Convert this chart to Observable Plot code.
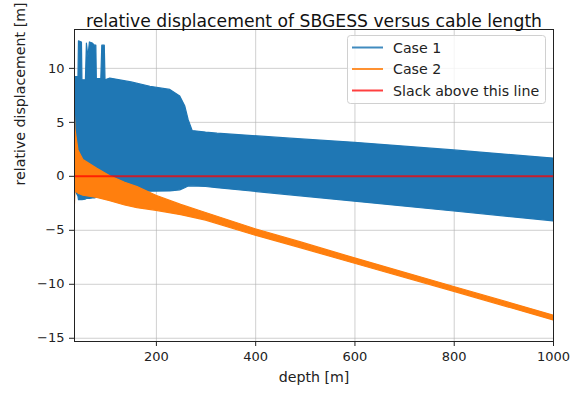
<!DOCTYPE html>
<html>
<head>
<meta charset="utf-8">
<script src="https://cdn.jsdelivr.net/npm/d3@7"></script>
<script src="https://cdn.jsdelivr.net/npm/@observablehq/plot@0.6"></script>
<style>
  html, body { margin: 0; padding: 0; background: #fff; }
  #chart { width: 577px; height: 394px; }
</style>
</head>
<body>
<div id="chart"></div>
<script>
// ---- Data ----
const titleText = "relative displacement of SBGESS versus cable length";
const xLabel = "depth [m]";
const yLabel = "relative displacement [m]";
const seriesNames = ["Case 1", "Case 2", "Slack above this line"];

const xTicks = [200, 400, 600, 800, 1000];
const yTicks = [-15, -10, -5, 0, 5, 10];

// Case 1 envelope of the oscillating response (depth, upper, lower)
const case1Depth = [35, 43, 44, 50, 51, 58, 60, 63, 66, 72, 76, 79, 80, 89, 91, 96, 97.5, 107, 150, 188, 228, 248, 258, 265, 273, 300, 323, 470, 600, 800, 1000];
const case1Upper = [9.2, 9.2, 12.5, 12.4, 8.9, 8.9, 12.3, 11.0, 12.4, 12.3, 12.1, 12.1, 9.0, 9.0, 12.1, 12.1, 8.9, 9.05, 8.7, 8.3, 8.0, 7.4, 6.5, 5.2, 4.2, 4.05, 3.95, 3.49, 3.1, 2.4, 1.64];
const case1Lower = [-1.2, -1.9, -2.2, -2.2, -2.2, -2.15, -2.1, -2.1, -2.1, -2.05, -2.05, -2.0, -2.0, -2.0, -2.0, -2.0, -2.0, -1.9, -1.45, -1.42, -1.4, -1.3, -1.1, -0.95, -0.93, -0.99, -1.1, -1.76, -2.35, -3.26, -4.17];

// Case 2 envelope (depth, upper, lower)
const case2Depth = [35, 37, 43, 53, 81, 107, 137, 162, 200, 250, 300, 400, 490, 600, 800, 1000];
const case2Upper = [6.7, 4.3, 2.4, 1.5, 0.7, 0.0, -0.6, -1.0, -1.8, -2.65, -3.4, -4.9, -6.1, -7.6, -10.25, -12.9];
const case2Lower = [-3.6, -1.4, -1.6, -1.8, -2.0, -2.3, -2.7, -2.95, -3.2, -3.6, -4.1, -5.5, -6.65, -8.1, -10.7, -13.35];

const slackLevel = [0];

// ---- Build tables ----
const case1 = case1Depth.map((d, i) => ({depth: d, hi: case1Upper[i], lo: case1Lower[i]}));
const case2 = case2Depth.map((d, i) => ({depth: d, hi: case2Upper[i], lo: case2Lower[i]}));

const C1 = "#1f77b4", C2 = "#ff7f0e", C3 = "#ff0000";
const FONT = "DejaVu Sans";
const fmt = d3.format("d");

const plot = Plot.plot({
  width: 577,
  height: 394,
  marginLeft: 74,
  marginRight: 24,
  marginTop: 29,
  marginBottom: 53,
  style: {fontFamily: FONT, fontSize: "13px", color: "#222", background: "#fff"},
  x: {domain: [35, 1000]},
  y: {domain: [-15.3, 13.6]},
  marks: [
    Plot.ruleX(xTicks, {stroke: "#b0b0b0", strokeOpacity: 0.6, strokeWidth: 1}),
    Plot.ruleY(yTicks, {stroke: "#b0b0b0", strokeOpacity: 0.6, strokeWidth: 1}),
    Plot.areaY(case1, {x: "depth", y1: "lo", y2: "hi", fill: C1, stroke: C1, strokeWidth: 1.2, clip: true}),
    Plot.areaY(case2, {x: "depth", y1: "lo", y2: "hi", fill: C2, stroke: C2, strokeWidth: 1.2, clip: true}),
    Plot.ruleY(slackLevel, {stroke: C3, strokeWidth: 2, strokeOpacity: 0.75}),
    Plot.frame({stroke: "#222", strokeWidth: 1}),
    Plot.axisX({ticks: xTicks, tickFormat: fmt, tickSize: 5, tickPadding: 5, label: null, fontSize: 13}),
    Plot.axisY({ticks: yTicks, tickFormat: fmt, tickSize: 5, tickPadding: 5, label: null, fontSize: 13}),
    Plot.text([titleText], {text: d => d, frameAnchor: "top", dy: -14.5, fontSize: 17.2, fill: "#111"}),
    Plot.text([xLabel], {text: d => d, frameAnchor: "bottom", dy: 40, fontSize: 14.2, fill: "#222"}),
    Plot.text([yLabel], {text: d => d, frameAnchor: "left", dx: -54, rotate: -90, fontSize: 14.2, fill: "#222"})
  ]
});

// ---- Legend (matplotlib-style box, upper right) ----
const svg = d3.select(plot);
const lg = svg.append("g").attr("font-family", FONT).attr("font-size", 14.2).attr("text-anchor", "start");
lg.append("rect")
  .attr("x", 347.5).attr("y", 35.5).attr("width", 198).attr("height", 68)
  .attr("rx", 3).attr("fill", "#fff").attr("fill-opacity", 0.8)
  .attr("stroke", "#d0d0d0");
const colors = [C1, C2, C3];
seriesNames.forEach((name, i) => {
  const cy = 47.5 + i * 21.5;
  lg.append("line").attr("x1", 352).attr("x2", 383).attr("y1", cy).attr("y2", cy)
    .attr("stroke", colors[i]).attr("stroke-width", 2).attr("stroke-opacity", i === 2 ? 0.75 : 0.85);
  lg.append("text").attr("x", 393).attr("y", cy).attr("dy", "0.36em")
    .attr("text-anchor", "start").attr("fill", "#222").text(name);
});

document.getElementById("chart").appendChild(plot);
</script>
</body>
</html>
